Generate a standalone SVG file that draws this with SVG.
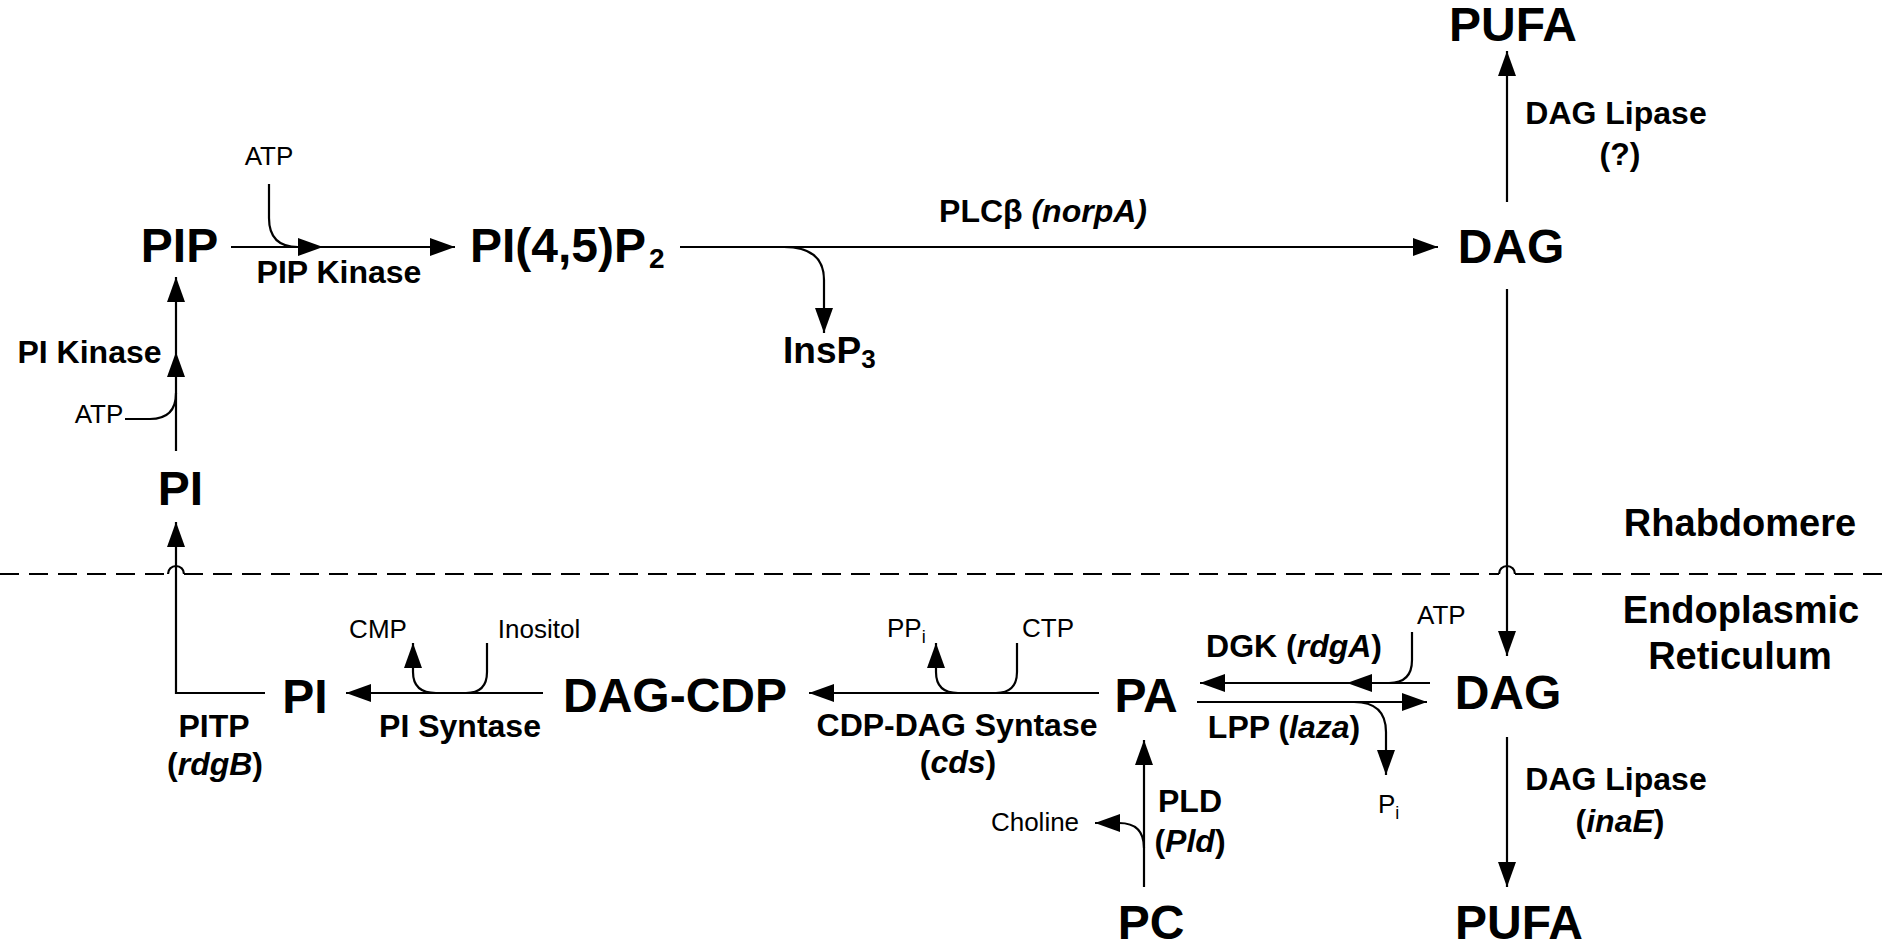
<svg xmlns="http://www.w3.org/2000/svg" width="1887" height="949" viewBox="0 0 1887 949">
<style>
text{font-family:"Liberation Sans",Arial,Helvetica,sans-serif;fill:#000}
.node{font-size:48px;font-weight:bold;text-anchor:middle}
.lab{font-size:32px;font-weight:bold;text-anchor:middle}
.reg{font-size:38px;font-weight:bold;text-anchor:middle}
.sm{font-size:26px;text-anchor:middle}
.it{font-style:italic}
.ln{fill:none;stroke:#000;stroke-width:2.2}
.arr{fill:none;stroke:#000;stroke-width:2.2;marker-end:url(#ah)}
.dash{fill:none;stroke:#000;stroke-width:2;stroke-dasharray:19 10}
</style>
<defs>
<marker id="ah" markerUnits="userSpaceOnUse" markerWidth="25" markerHeight="18" viewBox="0 0 25 18" refX="25" refY="9" orient="auto">
<path d="M0,0 L25,9 L0,18 Z" fill="#000"/>
</marker>
</defs>
<rect width="1887" height="949" fill="#fff"/>

<g id="membrane">
<path class="dash" d="M0,574 H168"/>
<path class="dash" d="M184,574 H1499"/>
<path class="dash" d="M1515,574 H1887"/>
<path class="ln" d="M168,574 A8,8 0 0 1 184,574"/>
<path class="ln" d="M1499,574 A8,8 0 0 1 1515,574"/>
<text class="reg" x="1740" y="536">Rhabdomere</text>
<text class="reg" x="1741" y="623">Endoplasmic</text>
<text class="reg" x="1740" y="669">Reticulum</text>
</g>

<g id="connectors">
<path class="arr" d="M265,693 H176 V522"/>
<path class="arr" d="M176,451 V352"/>
<path class="arr" d="M176,352 V277"/>
<path class="ln" d="M125,419 H150 Q176,419 176,393"/>
<path class="arr" d="M231,247 H323"/>
<path class="arr" d="M323,247 H455"/>
<path class="ln" d="M269,184 V218 Q269,247 298,247"/>
<path class="arr" d="M680,247 H1438"/>
<path class="arr" d="M784,247 Q824,247 824,280 V333"/>
<path class="arr" d="M1507,202 V51"/>
<path class="arr" d="M1507,289 V656"/>
<path class="arr" d="M1507,737 V887"/>
<path class="arr" d="M543,693 H346"/>
<path class="arr" d="M436,693 Q413,693 413,672 V643"/>
<path class="ln" d="M487,643 V672 Q487,693 466,693"/>
<path class="arr" d="M1099,693 H809"/>
<path class="arr" d="M958,693 Q936,693 936,672 V643"/>
<path class="ln" d="M1017,643 V672 Q1017,693 996,693"/>
<path class="arr" d="M1430,683 H1347"/>
<path class="arr" d="M1347,683 H1200"/>
<path class="ln" d="M1412,632 V660 Q1412,683 1389,683"/>
<path class="arr" d="M1197,702 H1427"/>
<path class="arr" d="M1354,702 Q1386,702 1386,732 V775"/>
<path class="arr" d="M1144,887 V740"/>
<path class="arr" d="M1144,848 Q1144,823 1119,823 H1095"/>
</g>

<g id="node-PIP"><text class="node" x="179.5" y="262">PIP</text></g>
<g id="node-PIP2"><text class="node" x="470" y="262" style="text-anchor:start">PI(4,5)P<tspan font-size="28" dx="3" dy="6">2</tspan></text></g>
<g id="node-DAG-top"><text class="node" x="1511" y="263">DAG</text></g>
<g id="node-PUFA-top"><text class="node" x="1513" y="41">PUFA</text></g>
<g id="node-InsP3"><text x="783" y="363" font-size="37" font-weight="bold">InsP<tspan font-size="26" dy="5">3</tspan></text></g>
<g id="node-PI-rh"><text class="node" x="180.5" y="505">PI</text></g>
<g id="node-PI-er"><text class="node" x="305" y="713">PI</text></g>
<g id="node-DAG-CDP"><text class="node" x="675" y="712">DAG-CDP</text></g>
<g id="node-PA"><text class="node" x="1146" y="712">PA</text></g>
<g id="node-DAG-er"><text class="node" x="1508" y="709">DAG</text></g>
<g id="node-PC"><text class="node" x="1151" y="939">PC</text></g>
<g id="node-PUFA-er"><text class="node" x="1519" y="939">PUFA</text></g>

<g id="labels">
<text class="sm" x="269" y="165">ATP</text>
<text class="sm" x="99" y="423">ATP</text>
<text class="lab" x="339" y="283">PIP Kinase</text>
<text class="lab" x="89.5" y="363">PI Kinase</text>
<text class="lab" x="1043" y="222">PLCβ <tspan class="it">(norpA)</tspan></text>
<text class="lab" x="1616" y="124">DAG Lipase</text>
<text class="lab" x="1620" y="165">(?)</text>
<text class="sm" x="378" y="638">CMP</text>
<text class="sm" x="539" y="638">Inositol</text>
<text class="sm" x="887" y="637" style="text-anchor:start">PP<tspan font-size="18" dy="6">i</tspan></text>
<text class="sm" x="1048" y="637">CTP</text>
<text class="sm" x="1417" y="624" style="text-anchor:start">ATP</text>
<text class="lab" x="1294" y="657">DGK (<tspan class="it">rdgA</tspan>)</text>
<text class="lab" x="214" y="737">PITP</text>
<text class="lab" x="215" y="775">(<tspan class="it">rdgB</tspan>)</text>
<text class="lab" x="460" y="737">PI Syntase</text>
<text class="lab" x="957" y="736">CDP-DAG Syntase</text>
<text class="lab" x="958" y="773">(<tspan class="it">cds</tspan>)</text>
<text class="lab" x="1284" y="738">LPP (<tspan class="it">laza</tspan>)</text>
<text class="sm" x="1378" y="813" style="text-anchor:start">P<tspan font-size="18" dy="6">i</tspan></text>
<text class="lab" x="1616" y="790">DAG Lipase</text>
<text class="lab" x="1620" y="832">(<tspan class="it">inaE</tspan>)</text>
<text class="lab" x="1190" y="812">PLD</text>
<text class="lab" x="1190" y="852">(<tspan class="it">Pld</tspan>)</text>
<text class="sm" x="1035" y="831">Choline</text>
</g>
</svg>
